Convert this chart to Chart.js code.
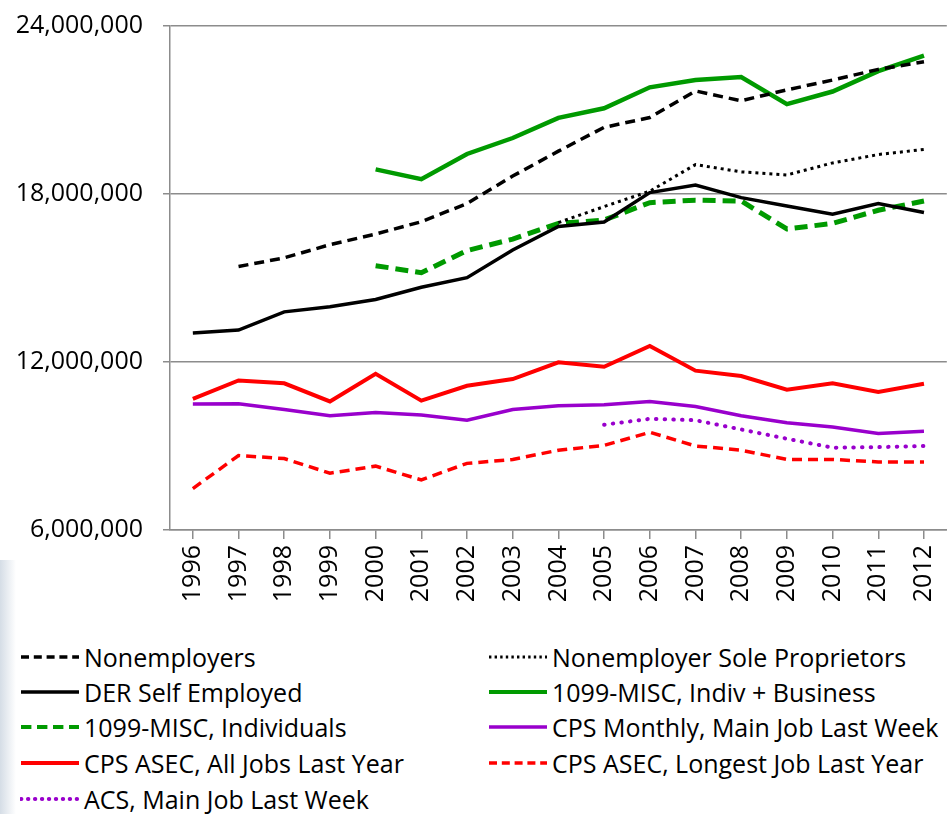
<!DOCTYPE html>
<html>
<head>
<meta charset="utf-8">
<script src="https://cdn.jsdelivr.net/npm/chart.js@4"></script>
<style>
  html, body { margin: 0; padding: 0; background: #fff; }
  body { width: 947px; height: 814px; position: relative; overflow: hidden; font-family: "Open Sans", sans-serif; }
  .edge { position: absolute; left: 0; top: 560px; width: 16px; height: 254px;
    background: linear-gradient(to right, #d5dde6, rgba(255,255,255,0)); }
  #wrap { position: absolute; left: 0; top: -9px; width: 960px; height: 634px; }
  #legend { position: absolute; left: 0; top: 0; }
  .item { position: absolute; display: flex; align-items: center; height: 36px; font-size: 25px; color: #000; white-space: nowrap; }
  .item svg { margin-right: 4px; }
</style>
</head>
<body>
<div class="edge"></div>
<div id="wrap"><canvas id="selfEmpChart"></canvas></div>
<div id="legend"></div>
<script>
const years = ["1996", "1997", "1998", "1999", "2000", "2001", "2002", "2003", "2004",
  "2005", "2006", "2007", "2008", "2009", "2010", "2011", "2012"];
const yTicks = [6, 12, 18, 24]; // millions

// values in millions
const nonemployers = [null, 15.41, 15.72, 16.19, 16.57, 17.01, 17.66, 18.64, 19.53,
  20.38, 20.73, 21.68, 21.33, 21.72, 22.07, 22.45, 22.72];
const soleProprietors = [null, null, null, null, null, null, null, null, 16.98,
  17.55, 18.1, 19.05, 18.79, 18.68, 19.11, 19.41, 19.59];
const derSelfEmployed = [13.04, 13.14, 13.79, 13.97, 14.23, 14.67, 15.01, 16.0, 16.84,
  17.0, 18.05, 18.32, 17.87, 17.57, 17.28, 17.66, 17.34];
const miscIndivBusiness = [null, null, null, null, 18.88, 18.53, 19.43, 20.0, 20.72,
  21.06, 21.81, 22.07, 22.18, 21.21, 21.66, 22.39, 22.94];
const miscIndividuals = [null, null, null, null, 15.44, 15.19, 15.98, 16.39, 16.95,
  17.07, 17.69, 17.78, 17.75, 16.75, 16.95, 17.42, 17.75];
const cpsMonthly = [10.5, 10.51, 10.3, 10.08, 10.2, 10.11, 9.92, 10.3, 10.44,
  10.47, 10.59, 10.41, 10.08, 9.83, 9.68, 9.45, 9.53];
const asecAllJobs = [10.68, 11.34, 11.24, 10.59, 11.58, 10.62, 11.15, 11.39, 11.99,
  11.83, 12.57, 11.69, 11.5, 11.01, 11.24, 10.93, 11.22];
const asecLongest = [7.48, 8.66, 8.55, 8.03, 8.28, 7.79, 8.38, 8.52, 8.85,
  9.02, 9.49, 9.0, 8.85, 8.52, 8.52, 8.43, 8.43];
const acsMainJob = [null, null, null, null, null, null, null, null, null,
  9.76, 9.97, 9.92, 9.59, 9.26, 8.94, 8.96, 9.0];

const GREEN = "#009a00";
const RED = "#ff0000";
const PURPLE = "#9900cc";
const GRID = "#8c8c8c";

function series(label, data, color, width, dash, cap) {
  return {
    label: label,
    data: data,
    borderColor: color,
    backgroundColor: color,
    borderWidth: width,
    borderDash: dash || [],
    borderCapStyle: cap || "butt",
    pointRadius: 0,
    pointHoverRadius: 0,
    tension: 0,
    fill: false,
  };
}

const ctx = document.getElementById("selfEmpChart").getContext("2d");
const chart = new Chart(ctx, {
  type: "line",
  data: {
    labels: years,
    datasets: [
      series("Nonemployers", nonemployers, "#000", 3.5, [10, 6]),
      series("Nonemployer Sole Proprietors", soleProprietors, "#000", 3, [3, 4]),
      series("DER Self Employed", derSelfEmployed, "#000", 3.5),
      series("1099-MISC, Indiv + Business", miscIndivBusiness, GREEN, 4.5),
      series("1099-MISC, Individuals", miscIndividuals, GREEN, 5, [13, 7]),
      series("CPS Monthly, Main Job Last Week", cpsMonthly, PURPLE, 3.5),
      series("CPS ASEC, All Jobs Last Year", asecAllJobs, RED, 4),
      series("CPS ASEC, Longest Job Last Year", asecLongest, RED, 3.5, [10, 6]),
      series("ACS, Main Job Last Week", acsMainJob, PURPLE, 4, [0.5, 8.2], "round"),
    ],
  },
  options: {
    responsive: true,
    maintainAspectRatio: false,
    animation: false,
    layout: { padding: { top: 13, right: 1, left: 0, bottom: 0 } },
    plugins: {
      legend: { display: false },
      tooltip: { enabled: false },
    },
    scales: {
      x: {
        offset: true,
        grid: {
          display: true,
          drawOnChartArea: false,
          drawTicks: true,
          tickLength: 9,
          color: GRID,
          lineWidth: 1.5,
        },
        border: { color: GRID, width: 1.5 },
        ticks: {
          color: "#000",
          font: { family: "Open Sans", size: 25 },
          minRotation: 90,
          maxRotation: 90,
          padding: 6,
          autoSkip: false,
        },
        afterFit: (scale) => { scale.height = 95; },
      },
      y: {
        min: 6,
        max: 24,
        afterBuildTicks: (scale) => { scale.ticks = yTicks.map((v) => ({ value: v })); },
        grid: {
          color: GRID,
          lineWidth: 1.5,
          tickLength: 7,
        },
        border: { color: GRID, width: 1.5 },
        ticks: {
          color: "#000",
          font: { family: "Open Sans", size: 25 },
          padding: 20,
          callback: (v) => (v * 1000000).toLocaleString("en-US"),
        },
        afterFit: (scale) => { scale.width = 170; },
      },
    },
  },
});

// two-column legend under the chart
const legendBox = document.getElementById("legend");
const rowY = [657, 692, 727, 763, 799];
chart.data.datasets.forEach((ds, i) => {
  const col = i % 2;
  const row = Math.floor(i / 2);
  const item = document.createElement("div");
  item.className = "item";
  item.style.left = (col === 0 ? 20 : 488) + "px";
  item.style.top = (rowY[row] - 18) + "px";
  const dash = ds.borderDash.length ? ds.borderDash.map((d) => d * 0.8).join(" ") : "none";
  const w = Math.min(ds.borderWidth, 4);
  item.innerHTML =
    '<svg width="60" height="12"><line x1="1" y1="6" x2="59" y2="6" stroke="' + ds.borderColor +
    '" stroke-width="' + w + '" stroke-dasharray="' + dash + '" stroke-linecap="' + ds.borderCapStyle +
    '"/></svg><span>' + ds.label + "</span>";
  legendBox.appendChild(item);
});
</script>
</body>
</html>
